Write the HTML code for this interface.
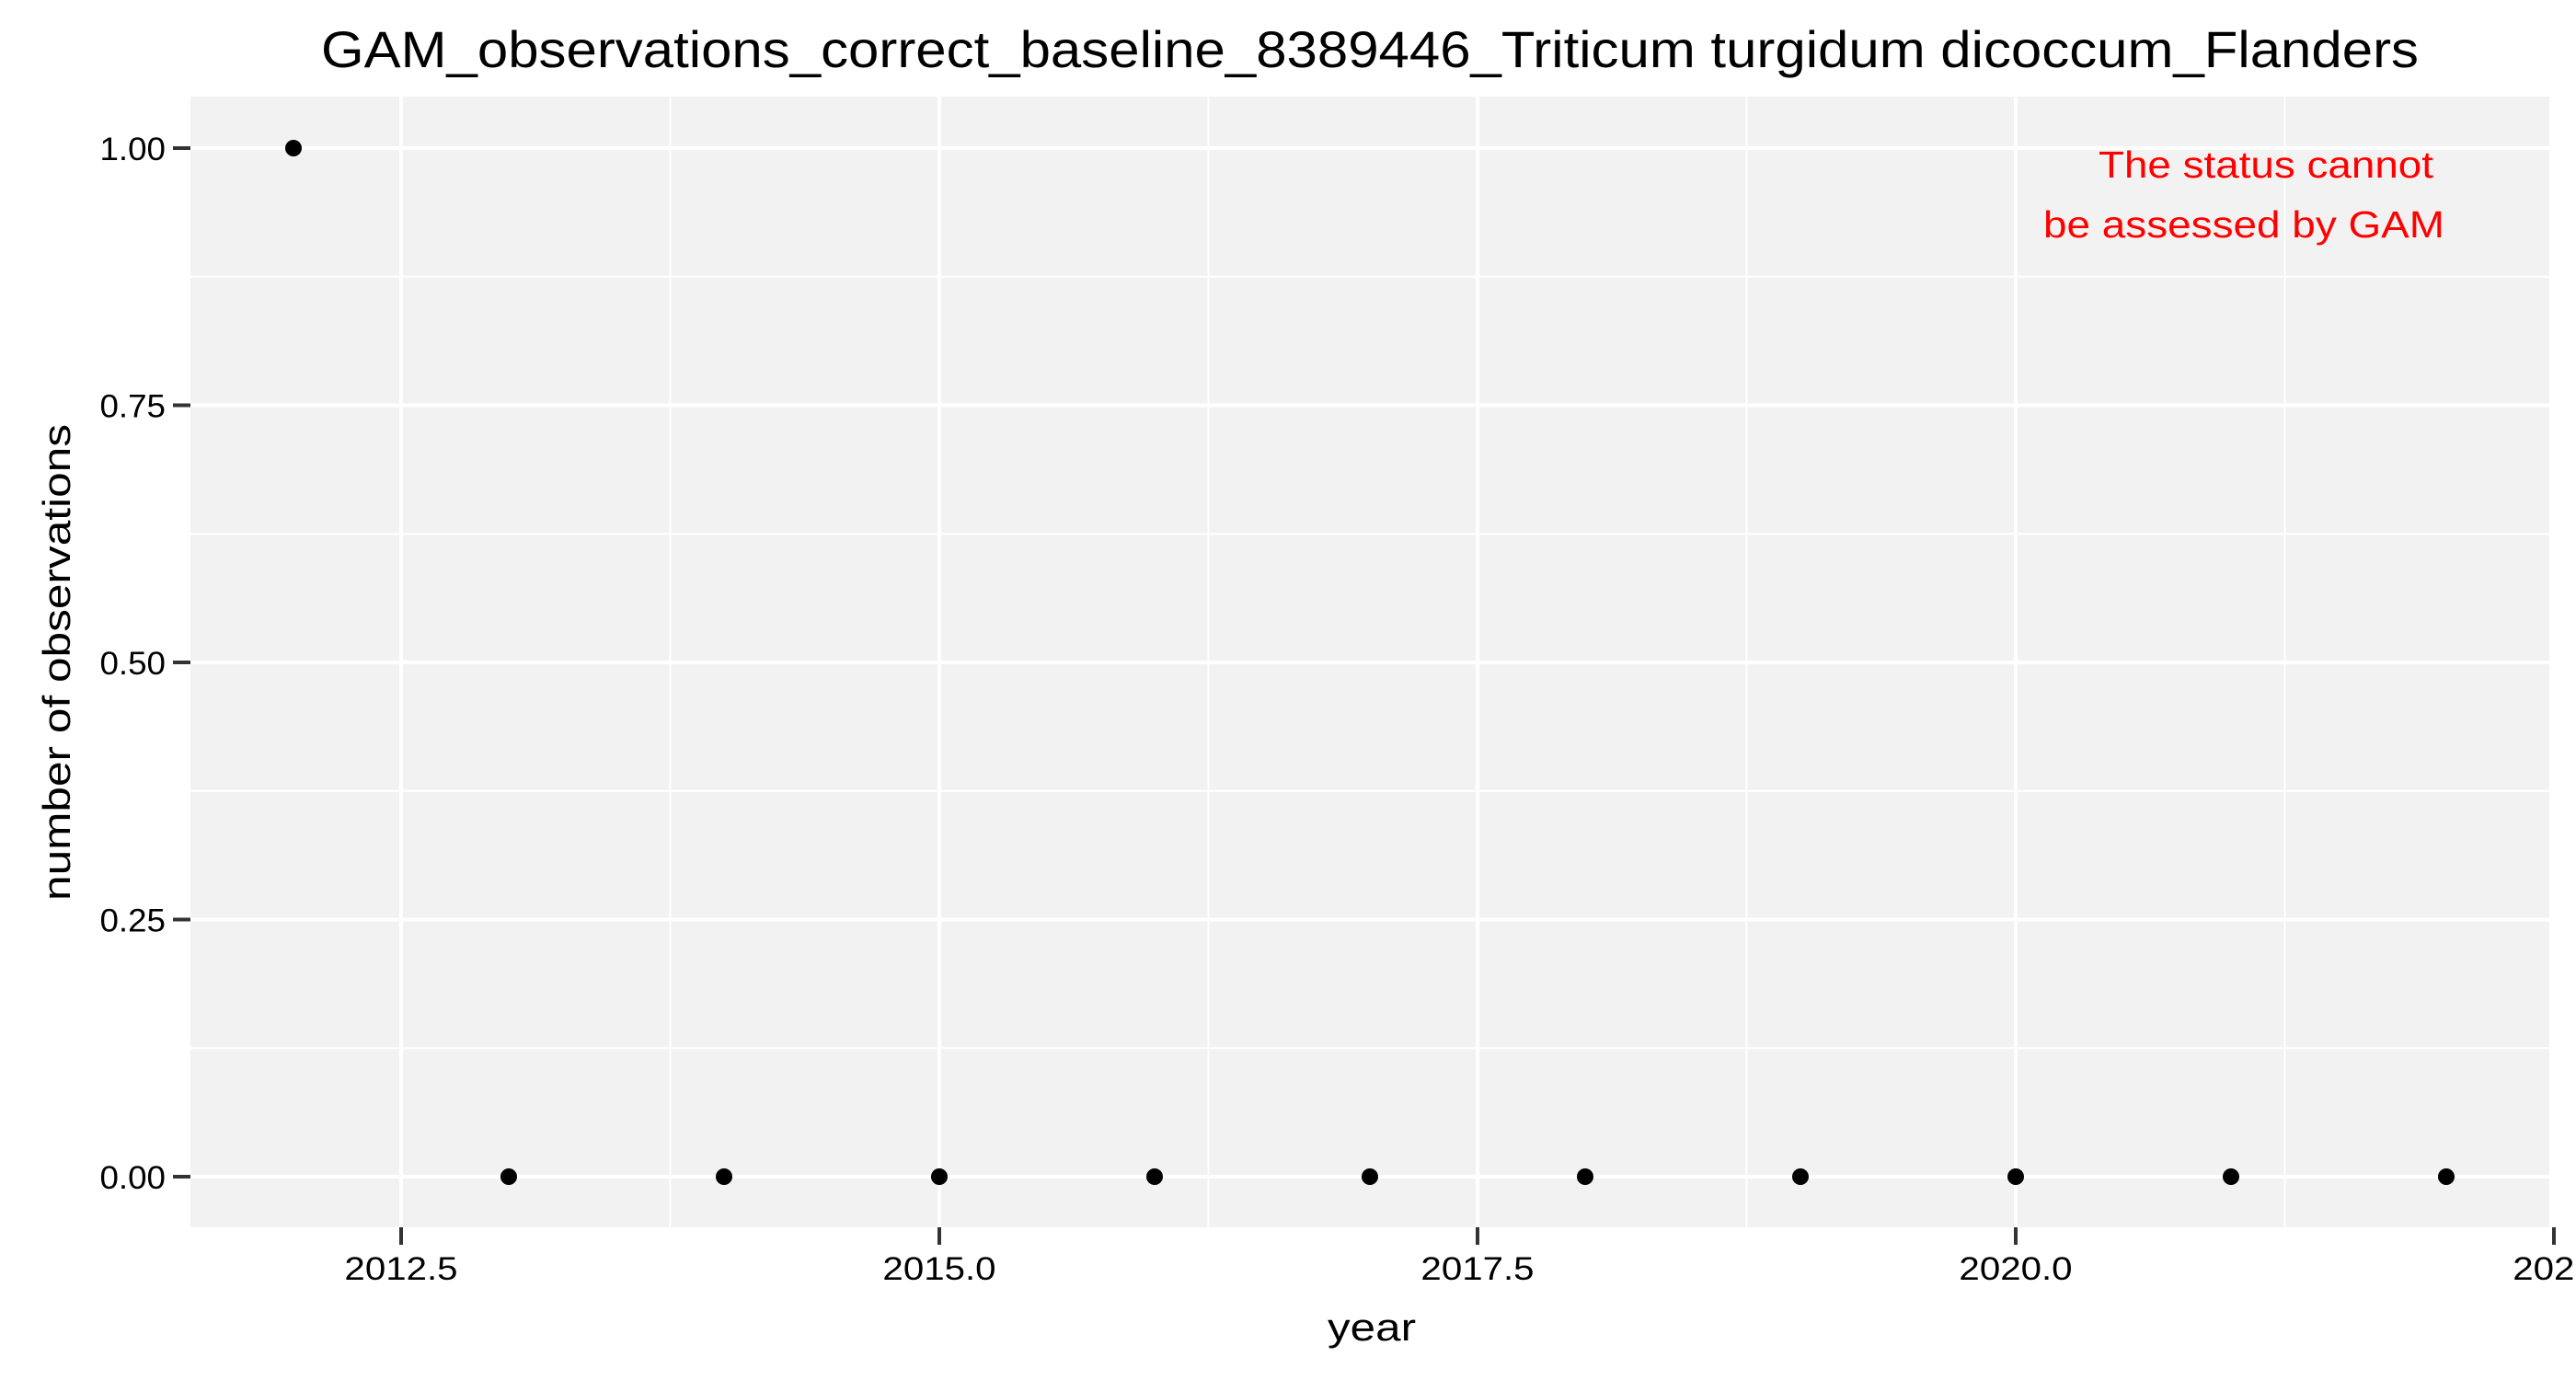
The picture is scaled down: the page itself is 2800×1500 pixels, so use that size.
<!DOCTYPE html>
<html><head><meta charset="utf-8"><style>
html,body{margin:0;padding:0;background:#fff;}
svg{display:block;font-family:"Liberation Sans",Arial,sans-serif;}
</style></head><body>
<svg id="chart" width="2800" height="1500" viewBox="0 0 2800 1500" xmlns="http://www.w3.org/2000/svg">
<rect width="2800" height="1500" fill="#fff"/>
<text x="1489" y="73" font-size="56" text-anchor="middle" fill="#000" textLength="2280" lengthAdjust="spacingAndGlyphs">GAM_observations_correct_baseline_8389446_Triticum turgidum dicoccum_Flanders</text>
<rect x="207" y="105" width="2564" height="1229" fill="#f2f2f2"/>
<g id="grid"></g>
<g id="axes"></g>
<g id="points"></g>
<text x="2463" y="193" font-size="41" text-anchor="middle" fill="#ff0000" textLength="364" lengthAdjust="spacingAndGlyphs">The status cannot</text>
<text x="2439" y="258" font-size="41" text-anchor="middle" fill="#ff0000" textLength="436" lengthAdjust="spacingAndGlyphs">be assessed by GAM</text>
<text x="1491" y="1457" font-size="42" text-anchor="middle" fill="#000" textLength="96" lengthAdjust="spacingAndGlyphs">year</text>
<text transform="translate(76,720) rotate(-90)" font-size="42" text-anchor="middle" fill="#000" textLength="518" lengthAdjust="spacingAndGlyphs">number of observations</text>
</svg>
<script>
const years = [2012,2013,2014,2015,2016,2017,2018,2019,2020,2021,2022];
const observations = [1,0,0,0,0,0,0,0,0,0,0];
const xTicks = [2012.5,2015,2017.5,2020,2022.5];
const xTickLabels = ["2012.5","2015.0","2017.5","2020.0","2022"];
const yTicks = [0,0.25,0.5,0.75,1];
const yTickLabels = ["0.00","0.25","0.50","0.75","1.00"];

const L=207,R=2771,T=105,B=1334;
function xs(v){return 1021 + (v-2015)*234;}
function ys(v){return 1279 + (161-1279)*v;}
const NS="http://www.w3.org/2000/svg";
function mk(tag,attrs,parent){const e=document.createElementNS(NS,tag);for(const k in attrs)e.setAttribute(k,attrs[k]);parent.appendChild(e);return e;}
function widen(t,f){const w=t.getComputedTextLength();t.setAttribute('textLength',w*f);t.setAttribute('lengthAdjust','spacingAndGlyphs');}
const grid=document.getElementById('grid'),axes=document.getElementById('axes'),pts=document.getElementById('points');

for(let i=0;i<yTicks.length-1;i++){
  const y=ys((yTicks[i]+yTicks[i+1])/2);
  const l=mk('line',{x1:L,x2:R,y1:y,y2:y,stroke:'#fff','stroke-width':2},grid);
  
  
}
for(let i=0;i<xTicks.length-1;i++){
  const x=xs((xTicks[i]+xTicks[i+1])/2);
  const l=mk('line',{x1:x,x2:x,y1:T,y2:B,stroke:'#fff','stroke-width':2},grid);
  
  
}
yTicks.forEach((v,i)=>{
  const y=ys(v);
  const l=mk('line',{x1:L,x2:R,y1:y,y2:y,stroke:'#fff','stroke-width':4},grid);
  
  
  const t=mk('line',{x1:188,x2:L,y1:y,y2:y,stroke:'#333','stroke-width':4},axes);
  
  
  const tx=mk('text',{x:180,y:y+13,'font-size':35,'text-anchor':'end',fill:'#000'},axes);
  tx.textContent=yTickLabels[i];
  
  
  widen(tx,1.05);
});
xTicks.forEach((v,i)=>{
  const x=xs(v);
  const l=mk('line',{x1:x,x2:x,y1:T,y2:B,stroke:'#fff','stroke-width':4},grid);
  
  
  const t=mk('line',{x1:x,x2:x,y1:B,y2:B+19,stroke:'#333','stroke-width':4},axes);
  
  
  const tx=mk('text',{x:x,y:1391,'font-size':35,'text-anchor':'middle',fill:'#000'},axes);
  tx.textContent=xTickLabels[i];
  
  
  widen(tx,1.15);
});
years.forEach((yr,i)=>{
  const c=mk('circle',{cx:xs(yr),cy:ys(observations[i]),r:9,fill:'#000'},pts);
  
  
});
</script>
</body></html>
